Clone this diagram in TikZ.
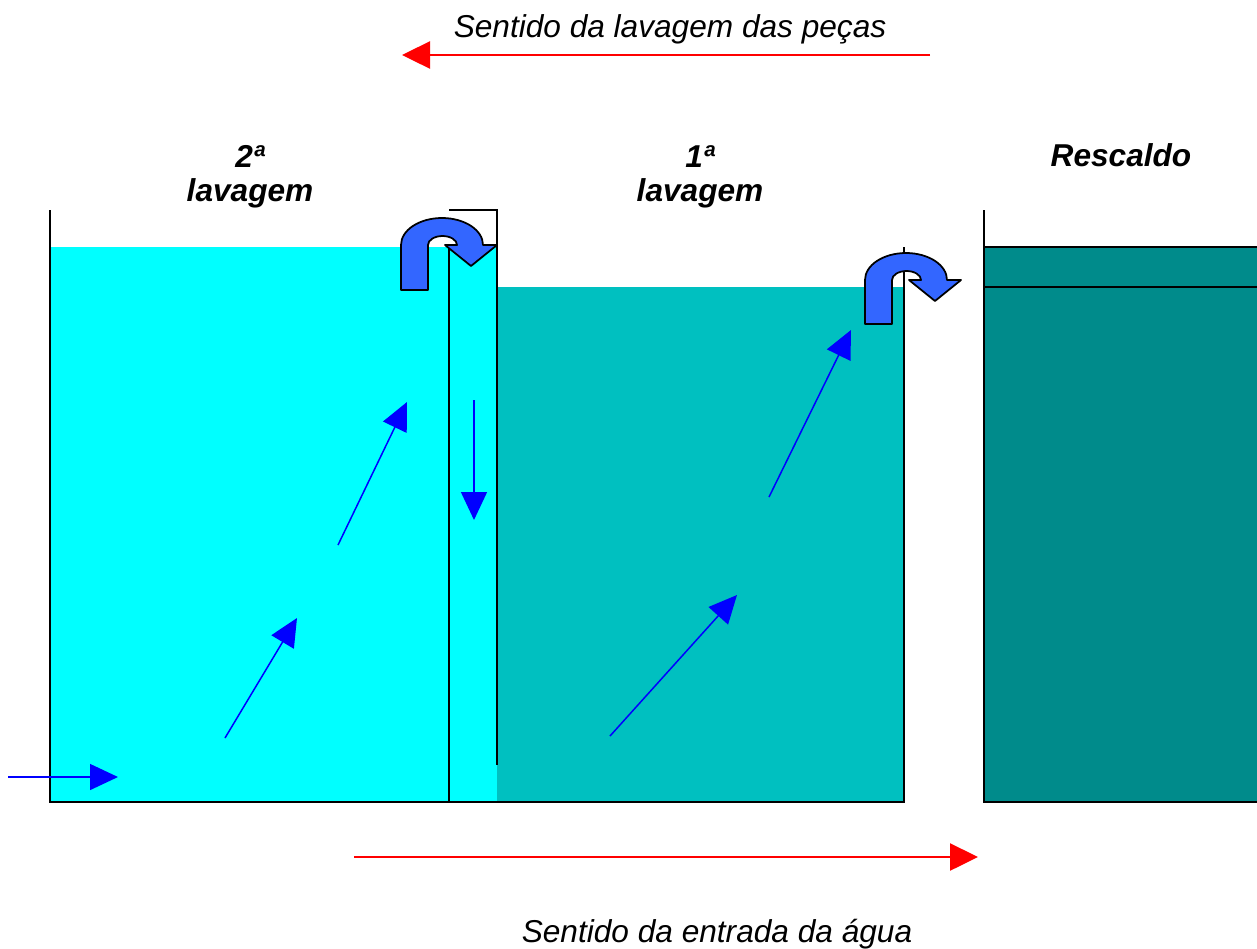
\documentclass[tikz,border=0pt]{standalone}
\usepackage{fontspec}
\setmainfont{Liberation Sans}
\usepackage{xcolor}
\usepackage{tikz}
\usetikzlibrary{positioning,arrows.meta}
\definecolor{tkCyan}{HTML}{00FFFF}
\definecolor{tkTeal}{HTML}{00C0C0}
\definecolor{tkDark}{HTML}{008B8B}
\definecolor{tkBlue}{HTML}{0000FF}
\definecolor{tkTurn}{HTML}{3366FF}
\definecolor{tkRed}{HTML}{FF0000}
\tikzset{
  tk-wall/.style={draw=black, line width=1.4pt},
  tk-flow/.style={draw=tkBlue, line width=0.85pt,
    -{Triangle[length=0.56cm, width=0.52cm]}},
  tk-dir/.style={draw=tkRed, line width=1.4pt,
    -{Triangle[length=0.56cm, width=0.54cm]}},
  tk-turn/.style={draw=black, line width=1pt, fill=tkTurn, line join=round},
  tk-title/.style={font=\fontsize{18}{19}\selectfont\bfseries\itshape,
    anchor=base, inner sep=0pt},
  tk-note/.style={font=\fontsize{18}{19}\selectfont\itshape,
    anchor=base, inner sep=0pt}
}
\begin{document}
\begin{tikzpicture}[x=0.02cm, y=-0.02cm]
\useasboundingbox (0,0) rectangle (1257,948);
% Water
\fill[tkCyan] (50,247) rectangle (497,802);
\fill[tkTeal] (497,287) rectangle (904,802);
\fill[tkDark] (984,247) rectangle (1257,802);
% Tank walls
\draw[tk-wall] (50,210) -- (50,802) -- (904,802) -- (904,247);
\draw[tk-wall] (449,247) -- (449,802);
\draw[tk-wall] (449,210) -- (497,210) -- (497,765);
\draw[tk-wall] (984,210) -- (984,802) -- (1257,802);
\draw[tk-wall] (984,247) -- (1257,247);
\draw[tk-wall] (984,287) -- (1257,287);
% Overflow arrows
\foreach \xl/\cy/\yb in {401/245/290, 865/280/324}{
  \draw[tk-turn] (\xl,\yb) -- (\xl,\cy)
    arc[start angle=180, end angle=360, x radius=41, y radius=27]
    -- (\xl+96,\cy) -- (\xl+70,\cy+21) -- (\xl+44,\cy) -- (\xl+56,\cy)
    arc[start angle=0, end angle=-180, x radius=14.5, y radius=9]
    -- (\xl+27,\yb) -- cycle;
}
% Flow inside the tanks
\coordinate (in-a) at (8,777);     \coordinate (in-b) at (118,777);
\coordinate (l2-a) at (225,738);   \coordinate (l2-b) at (297,618);
\coordinate (l2-c) at (338,545);   \coordinate (l2-d) at (407,402);
\coordinate (ch-a) at (474,400);   \coordinate (ch-b) at (474,520);
\coordinate (l1-a) at (610,736);   \coordinate (l1-b) at (737,595);
\coordinate (l1-c) at (769,497);   \coordinate (l1-d) at (851,330);
\foreach \a/\b in {in-a/in-b, l2-a/l2-b, l2-c/l2-d, ch-a/ch-b, l1-a/l1-b, l1-c/l1-d}{
  \draw[tk-flow] (\a) -- (\b);
}
% Directions
\coordinate (parts-from) at (930,55);  \coordinate (parts-to) at (402,55);
\coordinate (water-from) at (354,857); \coordinate (water-to) at (978,857);
\draw[tk-dir] (parts-from) -- (parts-to);
\draw[tk-dir] (water-from) -- (water-to);
% Labels
\node[tk-note] (parts) at (670,37) {Sentido da lavagem das peças};
\node[tk-note] (water) at (717,942) {Sentido da entrada da água};
\node[tk-title] (wash2) at (250,167) {2ª};
\node[tk-title] (wash2b) at (250,201) {lavagem};
\node[tk-title] (wash1) at (700,167) {1ª};
\node[tk-title] (wash1b) at (700,201) {lavagem};
\node[tk-title] (rinse) at (1121,166) {Rescaldo};
\end{tikzpicture}
\end{document}
